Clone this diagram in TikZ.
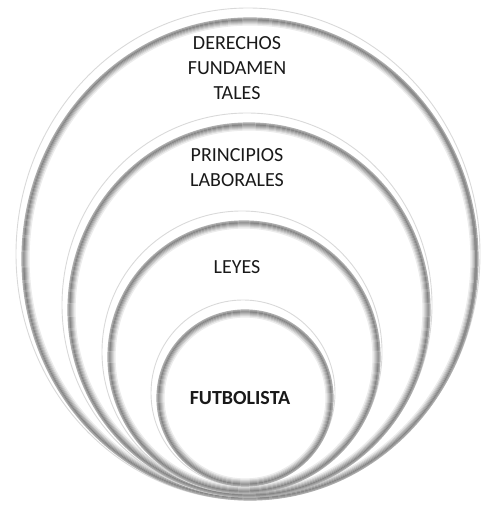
\documentclass[tikz,border=0pt]{standalone}
\usepackage{fontspec}
\setmainfont{Carlito}
\begin{document}
\begin{tikzpicture}[x=1pt,y=1pt,
  rimline/.style={line width=1.2pt},
  glint/.style={draw=black!15,line width=0.9pt},
  ringtext/.style={font=\fontsize{20}{25}\selectfont,text=black!90,align=center}]
\useasboundingbox (0,0) rectangle (481,506);
% rings, outer to inner
\foreach \cx/\cy/\rx/\ry in {250/247/228/241, 249/196/181/187, 244/149/136/136, 245/108/88/88}{
  \draw[glint] (\cx-2,\cy+5) ellipse [x radius=\rx+4, y radius=\ry+5];
  \foreach \k in {0,...,7}{
    \pgfmathtruncatemacro\rimtone{max(4,48-8*abs(\k-2))}
    \draw[rimline,draw=black!\rimtone] (\cx,\cy) ellipse [x radius=\rx-\k, y radius=\ry-\k];
  }
}
% darker right side of the outer ring
\draw[line width=2.2pt,black!45,line cap=round] (250,247) ++(-25:226 and 239)
  arc [start angle=-25, end angle=50, x radius=226, y radius=239];
\node[ringtext] (derechos) at (237,438) {DERECHOS\\FUNDAMEN\\TALES};
\node[ringtext] (principios) at (237,338) {PRINCIPIOS\\LABORALES};
\node[ringtext] (leyes) at (237,239) {LEYES};
\node[ringtext,font=\fontsize{20}{25}\selectfont\bfseries] (futbolista) at (240,108) {FUTBOLISTA};
\end{tikzpicture}
\end{document}
